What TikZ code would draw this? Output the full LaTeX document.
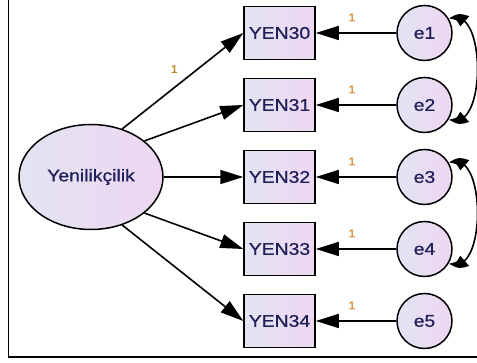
\documentclass[tikz,border=0pt]{standalone}
\usepackage{fontspec}
\newfontfamily\amosfont[FakeStretch = 1.14, FakeBold = 0.9]{Liberation Sans}
\usetikzlibrary{shapes.geometric, arrows.meta, bending}

\definecolor{fillA}{RGB}{226,228,242}
\definecolor{fillB}{RGB}{238,214,242}
\definecolor{labtext}{RGB}{32,32,90}
\definecolor{parmtext}{RGB}{195,130,40}

\tikzset{
    varbox/.style = {draw, line width = 1.5pt, inner sep = 0pt, left color = fillA, right color = fillB, text = labtext, font = \amosfont\fontsize{17}{19}\selectfont},
    latent/.style = {varbox, ellipse, minimum width = 144pt, minimum height = 105pt},
    observed/.style = {varbox, rectangle, minimum width = 71pt, minimum height = 53pt},
    errvar/.style = {varbox, circle, minimum size = 55pt},
    loading/.style = {line width = 1.6pt, -{Triangle[length = 23pt, width = 14pt]}},
    covar/.style = {line width = 1.6pt, {Triangle[length = 19pt, width = 13pt, bend]}-{Triangle[length = 19pt, width = 13pt, bend]}},
    parm/.style = {inner sep = 1pt, text = parmtext, font = \amosfont\fontsize{11}{12}\selectfont}
}

\begin{document}
\begin{tikzpicture}[x = 1pt, y = 1pt]
    \useasboundingbox (0, 0) rectangle (477, 363);
    
    % Frame
    \draw[line width = 1.8pt] (8.5, 363) -- (8.5, 6) -- (477, 6);
    
    \node[latent] (yenilik) at (91, 186) {Yenilik\c{c}ilik};
    
    \node[observed] (yen30) at (279.5, 330) {YEN30};
    %
    \node[observed] (yen31) at (279.5, 258) {YEN31};
    %
    \node[observed] (yen32) at (279.5, 186) {YEN32};
    %
    \node[observed] (yen33) at (279.5, 114) {YEN33};
    %
    \node[observed] (yen34) at (279.5, 42) {YEN34};
    
    \node[errvar] (e1) at (424.5, 330) {e1};
    %
    \node[errvar] (e2) at (424.5, 258) {e2};
    %
    \node[errvar] (e3) at (424.5, 186) {e3};
    %
    \node[errvar] (e4) at (424.5, 114) {e4};
    %
    \node[errvar] (e5) at (424.5, 42) {e5};
    
    % Loadings
    \draw[loading] (yenilik.57) -- (yen30.west) node[parm, pos = 0.43, above = 13pt] {1};
    %
    \draw[loading] (yenilik.34) -- (yen31.west);
    %
    \draw[loading] (yenilik.east) -- (yen32.west);
    %
    \draw[loading] (yenilik.-34) -- (yen33.west);
    %
    \draw[loading] (yenilik.-57) -- (yen34.west);
    
    % Error terms
    \draw[loading] (e1) -- (yen30) node[parm, pos = 0.55, above = 10pt] {1};
    %
    \draw[loading] (e2) -- (yen31) node[parm, pos = 0.55, above = 10pt] {1};
    %
    \draw[loading] (e3) -- (yen32) node[parm, pos = 0.55, above = 10pt] {1};
    %
    \draw[loading] (e4) -- (yen33) node[parm, pos = 0.55, above = 10pt] {1};
    %
    \draw[loading] (e5) -- (yen34) node[parm, pos = 0.55, above = 10pt] {1};
    
    % Covariances
    \draw[covar] (e1.30) .. controls +(25:42) and +(-25:42) .. (e2.-30);
    %
    \draw[covar] (e3.30) .. controls +(25:42) and +(-25:42) .. (e4.-30);
\end{tikzpicture}
\end{document}
